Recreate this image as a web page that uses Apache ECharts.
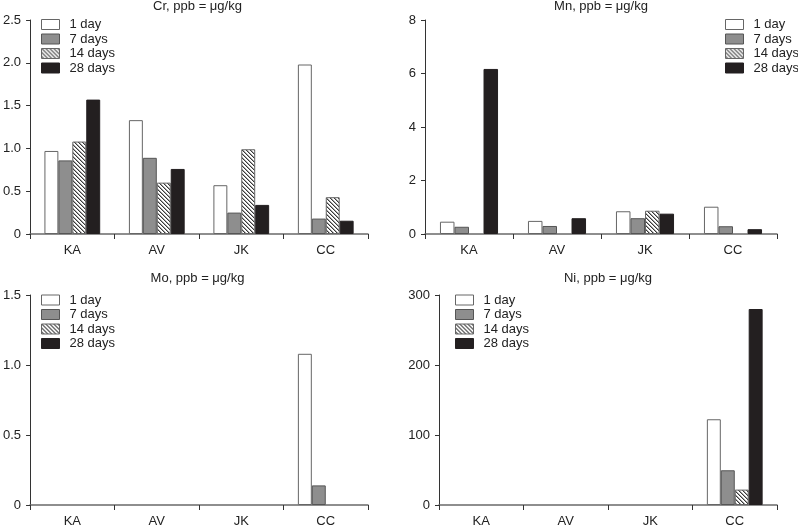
<!DOCTYPE html>
<html><head><meta charset="utf-8">
<script src="https://cdn.jsdelivr.net/npm/echarts@6/dist/echarts.min.js"></script>
<style>html,body{margin:0;padding:0;background:#fff}#c{width:798px;height:528px}</style>
</head><body><div id="c"></div>
<script>
var categories = ['KA', 'AV', 'JK', 'CC'];
var seriesNames = ['1 day', '7 days', '14 days', '28 days'];
var panelTitles = ['Cr, ppb = \u03bcg/kg', 'Mn, ppb = \u03bcg/kg', 'Mo, ppb = \u03bcg/kg', 'Ni, ppb = \u03bcg/kg'];

// values per panel, per series (order: 1 day, 7 days, 14 days, 28 days)
var crValues = [
  [0.97, 1.33, 0.57, 1.98],
  [0.86, 0.89, 0.25, 0.18],
  [1.08, 0.60, 0.99, 0.43],
  [1.57, 0.76, 0.34, 0.155]
];
var mnValues = [
  [0.46, 0.49, 0.85, 1.02],
  [0.27, 0.30, 0.59, 0.29],
  [null, null, 0.87, null],
  [6.17, 0.59, 0.76, 0.18]
];
var moValues = [
  [null, null, null, 1.08],
  [null, null, null, 0.14],
  [null, null, null, null],
  [null, null, null, null]
];
var niValues = [
  [null, null, null, 122.5],
  [null, null, null, 49.6],
  [null, null, null, 22],
  [null, null, null, 280]
];
var yMax = [2.5, 8, 1.5, 300];
var yInterval = [0.5, 2, 0.5, 100];

var allValues = [crValues, mnValues, moValues, niValues];

// hatch pattern
var pc = document.createElement('canvas');
pc.width = 4; pc.height = 4;
var px = pc.getContext('2d');
px.fillStyle = '#ffffff'; px.fillRect(0, 0, 4, 4);
px.fillStyle = '#3a3a3a';
for (var i = 0; i < 4; i++) { px.fillRect(i, i, 1, 1); }
px.fillStyle = '#a5a5a5';
for (var i = 0; i < 4; i++) { px.fillRect((i + 1) % 4, i, 1, 1); }

var styles = [
  {color: '#ffffff', borderColor: '#666', borderWidth: 1},
  {color: '#8e8e8e', borderColor: '#555', borderWidth: 1},
  {color: {image: pc, repeat: 'repeat'}, borderColor: '#666', borderWidth: 1},
  {color: '#231f20', borderColor: '#231f20', borderWidth: 1}
];

var grids = [
  {left: 27, width: 341, top: 20, height: 214},
  {left: 425, width: 352, top: 20, height: 214},
  {left: 27, width: 341, top: 295, height: 214},
  {left: 439, width: 338, top: 295, height: 214}
];
var titlePos = [[197.5, 0], [601, 0], [197.5, 272], [608, 272]];
var legendPos = [[41, 17.5], [725, 17.5], [41, 293], [455, 293]];

var FONT = 'Liberation Sans, Arial, sans-serif';

var option = {
  animation: false,
  backgroundColor: '#fff',
  title: [], legend: [], grid: [], xAxis: [], yAxis: [], series: []
};

for (var p = 0; p < 4; p++) {
  option.grid.push(grids[p]);
  option.title.push({
    text: panelTitles[p], left: titlePos[p][0], top: titlePos[p][1], textAlign: 'center', padding: 0,
    textStyle: {fontFamily: FONT, fontSize: 13, fontWeight: 'normal', color: '#222'}
  });
  option.legend.push({
    orient: 'vertical', left: legendPos[p][0], top: legendPos[p][1], padding: 0,
    itemWidth: 18, itemHeight: 10, itemGap: 0.5,
    data: seriesNames.map(function (n, k) { return {name: n, icon: 'rect', itemStyle: styles[k]}; }),
    textStyle: {fontFamily: FONT, fontSize: 13, color: '#222', lineHeight: 14, padding: [0, 0, 0, 5]},
    selectedMode: false
  });
  option.xAxis.push({
    type: 'category', gridIndex: p, data: categories,
    axisLine: {lineStyle: {color: '#6a6a6a', width: 1.5}},
    axisTick: {show: true, length: 5, lineStyle: {color: '#333'}},
    axisLabel: {fontFamily: FONT, fontSize: 13, color: '#222', margin: 10},
    splitLine: {show: false}
  });
  (function (pp) {
    option.yAxis.push({
      type: 'value', gridIndex: pp, min: 0, max: yMax[pp], interval: yInterval[pp],
      axisLine: {show: true, lineStyle: {color: '#333', width: 1}},
      axisTick: {show: true, length: 4, lineStyle: {color: '#333'}},
      axisLabel: {fontFamily: FONT, fontSize: 13, color: '#222', margin: 9,
        formatter: function (v) {
          if (v === 0) return '0';
          return (pp === 0 || pp === 2) ? v.toFixed(1) : String(v);
        }},
      splitLine: {show: false}
    });
  })(p);
  for (var s = 0; s < 4; s++) {
    option.series.push({
      type: 'bar', name: seriesNames[s], xAxisIndex: p, yAxisIndex: p,
      data: allValues[p][s],
      barGap: '0%', barCategoryGap: '34%',
      itemStyle: styles[s]
    });
  }
}

var chart = echarts.init(document.getElementById('c'), null, {renderer: 'canvas'});
chart.setOption(option);
</script>
</body></html>
